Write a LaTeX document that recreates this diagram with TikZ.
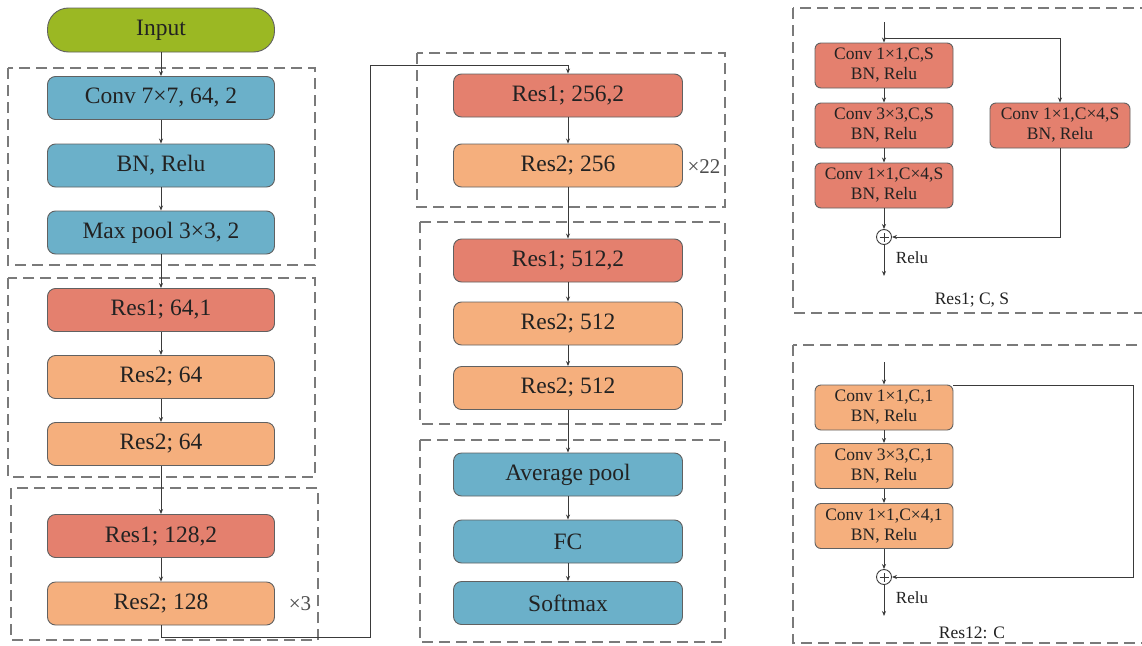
\documentclass[tikz,border=0pt]{standalone}
\usepackage{fontspec}
\setmainfont{Liberation Serif}
\usetikzlibrary{arrows.meta}
\definecolor{cgreen}{HTML}{9BB823}
\definecolor{cblue}{HTML}{6BB0C9}
\definecolor{cred}{HTML}{E4806E}
\definecolor{corange}{HTML}{F5AF7D}
\definecolor{cline}{HTML}{3A3A3A}
\definecolor{cdash}{HTML}{7A7A7A}
\definecolor{ctext}{HTML}{222222}
\tikzset{
  blk/.style={draw=cline!80, line width=0.9pt, rounded corners=8pt, text=ctext,
    minimum width=227pt, minimum height=43pt, inner sep=0pt,
    font=\fontsize{23.5}{26}\selectfont},
  small/.style={draw=cline!80, line width=0.9pt, rounded corners=6pt, text=ctext,
    minimum width=138pt, minimum height=45pt, inner sep=0pt, align=center,
    font=\fontsize{17.5}{20}\selectfont},
  grp/.style={draw=cdash, line width=1.3pt, dash pattern=on 11pt off 6pt},
  conn/.style={draw=cline, line width=0.9pt, -{Stealth[length=5pt,width=4pt]}},
  plain/.style={draw=cline, line width=0.9pt},
  lbl/.style={text=ctext, inner sep=0pt},
}
\begin{document}
\begin{tikzpicture}[x=1pt,y=-1pt]
\clip (0,0) rectangle (1142,645);
\fill[white] (0,0) rectangle (1142,645);

% dashed groups
\draw[grp] (8,68) rectangle (315,265);
\draw[grp] (8,278) rectangle (315,477);
\draw[grp] (11,488) rectangle (318,640);
\draw[grp] (417,53) rectangle (725,207);
\draw[grp] (420,222) rectangle (725,424);
\draw[grp] (420,440) rectangle (725,642);
\draw[grp] (793,8) rectangle (1160,313);
\draw[grp] (793,345) rectangle (1160,643);

% left column
\node[blk, fill=cgreen, rounded corners=21pt, minimum height=44pt] (inp) at (161,30) {Input};
\node[blk, fill=cblue] (conv) at (161,98) {Conv 7×7, 64, 2};
\node[blk, fill=cblue] (bn) at (161,165.5) {BN, Relu};
\node[blk, fill=cblue] (mp) at (161,232.5) {Max pool 3×3, 2};
\node[blk, fill=cred] (r1a) at (161,310) {Res1; 64,1};
\node[blk, fill=corange] (r2a) at (161,377) {Res2; 64};
\node[blk, fill=corange] (r2b) at (161,444) {Res2; 64};
\node[blk, fill=cred] (r1b) at (161,536) {Res1; 128,2};
\node[blk, fill=corange] (r2c) at (161,603.5) {Res2; 128};
\node[lbl, font=\fontsize{21}{24}\selectfont, text=ctext!80] (x3) at (300,604) {×3};

% middle column
\node[blk, fill=cred, minimum width=229pt] (r1c) at (568,95.5) {Res1; 256,2};
\node[blk, fill=corange, minimum width=229pt] (r2d) at (568,165.5) {Res2; 256};
\node[lbl, font=\fontsize{21}{24}\selectfont, text=ctext!80] (x22) at (704,167) {×22};
\node[blk, fill=cred, minimum width=229pt] (r1d) at (568,260.5) {Res1; 512,2};
\node[blk, fill=corange, minimum width=229pt] (r2e) at (568,323.5) {Res2; 512};
\node[blk, fill=corange, minimum width=229pt] (r2f) at (568,388) {Res2; 512};
\node[blk, fill=cblue, minimum width=229pt] (avg) at (568,474.5) {Average pool};
\node[blk, fill=cblue, minimum width=229pt] (fc) at (568,541.5) {FC};
\node[blk, fill=cblue, minimum width=229pt] (sm) at (568,603) {Softmax};

% main connectors
\draw[conn] (inp) -- (conv);
\draw[conn] (conv) -- (bn);
\draw[conn] (bn) -- (mp);
\draw[conn] (mp) -- (r1a);
\draw[conn] (r1a) -- (r2a);
\draw[conn] (r2a) -- (r2b);
\draw[conn] (r2b) -- (r1b);
\draw[conn] (r1b) -- (r2c);
\coordinate (t1) at (161,637);
\coordinate (t2) at (370,637);
\coordinate (t3) at (370,65);
\coordinate (t4) at (568,65);
\draw[conn] (r2c.south) -- (t1) -- (t2) -- (t3) -- (t4) -- (r1c.north);
\draw[conn] (r1c) -- (r2d);
\draw[conn] (r2d) -- (r1d);
\draw[conn] (r1d) -- (r2e);
\draw[conn] (r2e) -- (r2f);
\draw[conn] (r2f) -- (avg);
\draw[conn] (avg) -- (fc);
\draw[conn] (fc) -- (sm);

% right top: Res1
\node[small, fill=cred] (a1) at (884,65.5) {Conv 1×1,C,S\\BN, Relu};
\node[small, fill=cred] (a2) at (884,125.5) {Conv 3×3,C,S\\BN, Relu};
\node[small, fill=cred] (a3) at (884,185.5) {Conv 1×1,C×4,S\\BN, Relu};
\node[small, fill=cred, minimum width=140pt] (b1) at (1060,125.5) {Conv 1×1,C×4,S\\BN, Relu};
\node[circle, draw=cline, line width=0.9pt, minimum size=15pt, inner sep=0pt] (p1) at (884,237) {};
\draw[plain] ([yshift=-4.5pt]p1.center) -- ([yshift=4.5pt]p1.center) ([xshift=-4.5pt]p1.center) -- ([xshift=4.5pt]p1.center);
\coordinate (i1) at (884,22);
\coordinate (s1) at (884,38);
\coordinate (s2) at (1060,38);
\coordinate (s3) at (1060,237);
\coordinate (o1) at (884,276);
\draw[conn] (i1) -- (a1);
\draw[conn] (s1) -- (s2) -- (b1.north);
\draw[conn] (a1) -- (a2);
\draw[conn] (a2) -- (a3);
\draw[conn] (a3) -- (p1);
\draw[conn] (b1.south) -- (s3) -- (p1.east);
\draw[conn] (p1) -- (o1);
\node[lbl, font=\fontsize{17}{19}\selectfont] (relu1) at (912,258) {Relu};
\node[lbl, font=\fontsize{17.5}{19}\selectfont] (cap1) at (972,300) {Res1; C, S};

% right bottom: Res2
\node[small, fill=corange] (c1) at (884,407.5) {Conv 1×1,C,1\\BN, Relu};
\node[small, fill=corange] (c2) at (884,466) {Conv 3×3,C,1\\BN, Relu};
\node[small, fill=corange] (c3) at (884,526) {Conv 1×1,C×4,1\\BN, Relu};
\node[circle, draw=cline, line width=0.9pt, minimum size=15pt, inner sep=0pt] (p2) at (884,577) {};
\draw[plain] ([yshift=-4.5pt]p2.center) -- ([yshift=4.5pt]p2.center) ([xshift=-4.5pt]p2.center) -- ([xshift=4.5pt]p2.center);
\coordinate (i2) at (884,362);
\coordinate (u0) at (953,385.5);
\coordinate (u1) at (1133,385.5);
\coordinate (u2) at (1133,577);
\coordinate (o2) at (884,616);
\draw[conn] (i2) -- (c1);
\draw[conn] (u0) -- (u1) -- (u2) -- (p2.east);
\draw[conn] (c1) -- (c2);
\draw[conn] (c2) -- (c3);
\draw[conn] (c3) -- (p2);
\draw[conn] (p2) -- (o2);
\node[lbl, font=\fontsize{17}{19}\selectfont] (relu2) at (912,598) {Relu};
\node[lbl, font=\fontsize{17.5}{19}\selectfont] (cap2) at (972,633) {Res12: C};
\end{tikzpicture}
\end{document}
